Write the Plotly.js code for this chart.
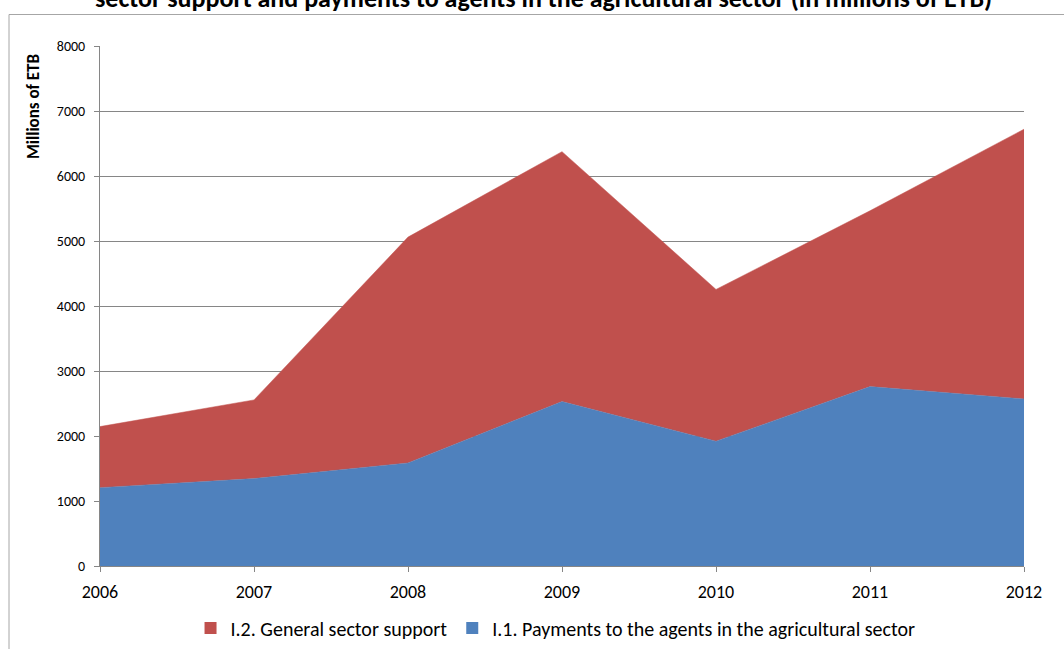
<!DOCTYPE html>
<html>
<head>
<meta charset="utf-8">
<script src="https://cdn.plot.ly/plotly-3.0.1.min.js"></script>
<style>html,body{margin:0;padding:0;background:#fff;}#chart{width:1064px;height:649px;}</style>
</head>
<body>
<div id="chart"></div>
<script>
const years = [2006, 2007, 2008, 2009, 2010, 2011, 2012];
const payments = [1205, 1345, 1585, 2530, 1920, 2760, 2570];
const generalSupport = [940, 1210, 3475, 3845, 2335, 2705, 4150];
const seriesNames = ["I.2. General sector support", "I.1. Payments to the agents in the agricultural sector"];
const titleText = "sector support and payments to agents in the agricultural sector (in millions of ETB)";
const yAxisTitle = "Millions of ETB";
const yTicks = [0, 1000, 2000, 3000, 4000, 5000, 6000, 7000, 8000];

const font = "Carlito, Calibri, Lato, sans-serif";
const blue = "#4F81BD", red = "#C0504D";

const traces = [
  {
    x: years, y: payments, name: seriesNames[1], type: "scatter", mode: "lines",
    stackgroup: "one", line: {width: 0.5, color: blue}, fillcolor: blue,
    showlegend: false
  },
  {
    x: years, y: generalSupport, name: seriesNames[0], type: "scatter", mode: "lines",
    stackgroup: "one", line: {width: 0.5, color: red}, fillcolor: red,
    showlegend: false
  },
  // legend entries (square swatches like the original)
  {x: [null], y: [null], type: "bar", name: seriesNames[0], marker: {color: red}, legendrank: 1},
  {x: [null], y: [null], type: "bar", name: seriesNames[1], marker: {color: blue}, legendrank: 2}
];

const layout = {
  width: 1064, height: 649,
  margin: {l: 100, r: 40, t: 46, b: 83, autoexpand: false},
  paper_bgcolor: "#fff", plot_bgcolor: "#fff",
  font: {family: font, color: "#000", size: 13},
  showlegend: true,
  legend: {
    orientation: "h", x: 0.493, xanchor: "center", y: (566 - 628) / 520, yanchor: "middle",
    font: {size: 20, family: font}, traceorder: "normal", itemwidth: 30
  },
  annotations: [
    {
      text: "<b>" + titleText + "</b>", xref: "paper", yref: "paper",
      x: (543 - 100) / 924, xanchor: "center", y: (566 + 2) / 520, yanchor: "middle",
      showarrow: false, font: {size: 26, family: font, color: "#000"}
    },
    {
      text: "<b>" + yAxisTitle + "</b>", xref: "paper", yref: "paper",
      x: (33 - 100) / 924, xanchor: "center", y: (566 - 107) / 520, yanchor: "middle",
      textangle: -90, showarrow: false, font: {size: 17, family: font, color: "#000"}
    }
  ],
  shapes: [{
    type: "rect", xref: "paper", yref: "paper",
    x0: (9 - 100) / 924, x1: (1080 - 100) / 924,
    y0: (566 - 670) / 520, y1: (566 - 14.5) / 520,
    line: {color: "#a6a6a6", width: 1}, fillcolor: "rgba(0,0,0,0)", layer: "below"
  }],
  xaxis: {
    range: [2006, 2012], tickvals: years, ticktext: years.map(String),
    showgrid: false, zeroline: false, showline: true, linecolor: "#868686", linewidth: 1,
    ticks: "outside", ticklen: 5, tickcolor: "#868686", ticklabelstandoff: 4,
    tickfont: {size: 18, family: font}, fixedrange: true
  },
  yaxis: {
    range: [0, 8000], tickvals: yTicks, ticktext: yTicks.map(String),
    showgrid: true, gridcolor: "#868686", gridwidth: 1,
    zeroline: false, showline: true, linecolor: "#868686", linewidth: 1,
    ticks: "outside", ticklen: 5, tickcolor: "#868686", ticklabelstandoff: 6,
    tickfont: {size: 14, family: font}, fixedrange: true
  }
};

Plotly.newPlot("chart", traces, layout, {displayModeBar: false, staticPlot: true});
</script>
</body>
</html>
